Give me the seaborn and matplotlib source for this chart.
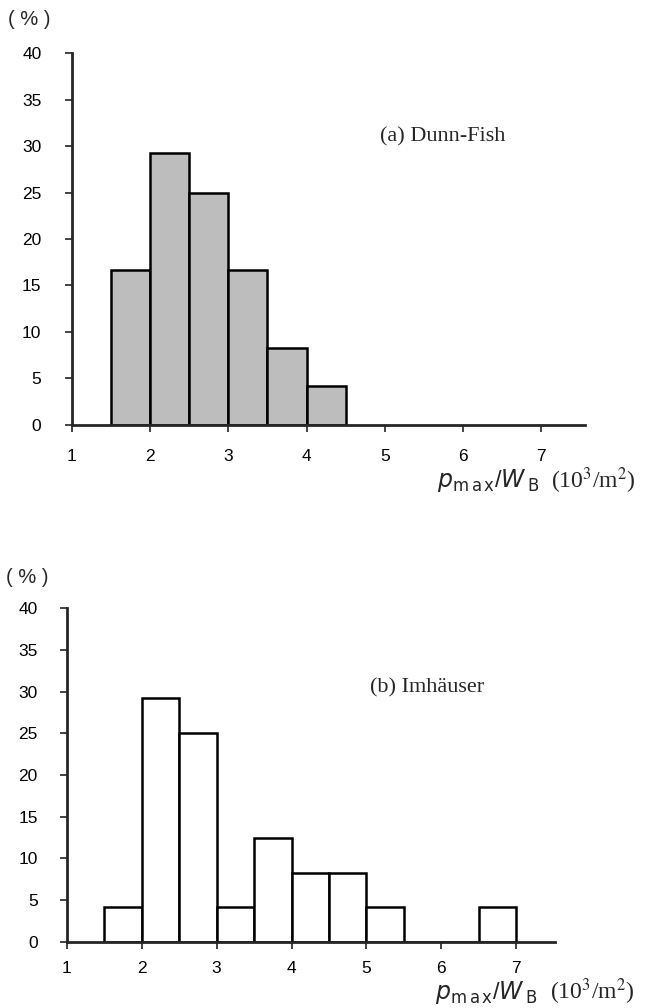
import numpy as np
import matplotlib
matplotlib.use("Agg")
import matplotlib.pyplot as plt
import seaborn as sns

# Histogram bins (10^3/m^2) and share of cases (%)
bin_edges_a = [1.5, 2.0, 2.5, 3.0, 3.5, 4.0, 4.5]
pct_a = [16.7, 29.2, 25.0, 16.7, 8.3, 4.2]

bin_edges_b = [1.5, 2.0, 2.5, 3.0, 3.5, 4.0, 4.5, 5.0, 5.5, 6.0, 6.5, 7.0]
pct_b = [4.2, 29.2, 25.0, 4.2, 12.5, 8.3, 8.3, 4.2, 0.0, 0.0, 4.2]

x_ticks = [1, 2, 3, 4, 5, 6, 7]
y_ticks = [0, 5, 10, 15, 20, 25, 30, 35, 40]

titles = ["(a) Dunn-Fish", "(b) Imh\u00e4user"]

sns.set_style("ticks")
plt.rcParams["font.family"] = ["Liberation Sans", "DejaVu Sans"]

fig = plt.figure(figsize=(6.58, 10.08), dpi=100)
ax_a = fig.add_axes([0.1094, 0.5784, 0.7796, 0.369])
ax_b = fig.add_axes([0.1018, 0.0655, 0.7416, 0.3313])


def draw_panel(ax, edges, pct, color, title, title_xy, label_xy, unit_dx,
               xmax, xpad, ypad):
    centers = [(edges[i] + edges[i + 1]) / 2 for i in range(len(pct))]
    sns.histplot(x=centers, weights=pct, bins=edges, stat="count",
                 color=color, alpha=1, edgecolor="black", linewidth=1.8,
                 ax=ax)
    ax.set_xlim(1, xmax)
    ax.set_ylim(0, 40)
    ax.set_xticks(x_ticks)
    ax.set_yticks(y_ticks)
    ax.set_xlabel("")
    ax.set_ylabel("")
    for side in ["top", "right"]:
        ax.spines[side].set_visible(False)
    ax.spines["left"].set_linewidth(2.0)
    ax.spines["bottom"].set_linewidth(2.0)
    ax.tick_params(axis="both", labelsize=12.5, width=1.2, length=5,
                   direction="out", colors="#222222", labelcolor="black")
    ax.tick_params(axis="x", pad=xpad)
    ax.tick_params(axis="y", pad=ypad)
    ax.text(title_xy[0], title_xy[1], title, transform=ax.transAxes,
            family="Liberation Serif", fontsize=16, ha="left", va="center")
    ax.text(-0.125, 1.09, "( % )", transform=ax.transAxes, fontsize=14.5,
            ha="left", va="center")
    ax.text(label_xy[0], label_xy[1],
            r"$\it{p}$$_{\rm m\,a\,x}$/$\it{W}$$_{\rm \,B}$",
            transform=ax.transAxes, fontsize=17, ha="left", va="center")
    ax.text(label_xy[0] + unit_dx, label_xy[1],
            r"(10$^{3}$/m$^{2}$)", transform=ax.transAxes,
            family="Liberation Serif", fontsize=17, ha="left", va="center",
            math_fontfamily="stix")


draw_panel(ax_a, bin_edges_a, pct_a, "#bdbdbd", titles[0],
           (0.60, 0.775), (0.712, -0.15), 0.222, 7.56, 12, 17)
draw_panel(ax_b, bin_edges_b, pct_b, "white", titles[1],
           (0.62, 0.76), (0.755, -0.15), 0.235, 7.52, 9, 16)

fig.savefig("out.png", dpi=100)
